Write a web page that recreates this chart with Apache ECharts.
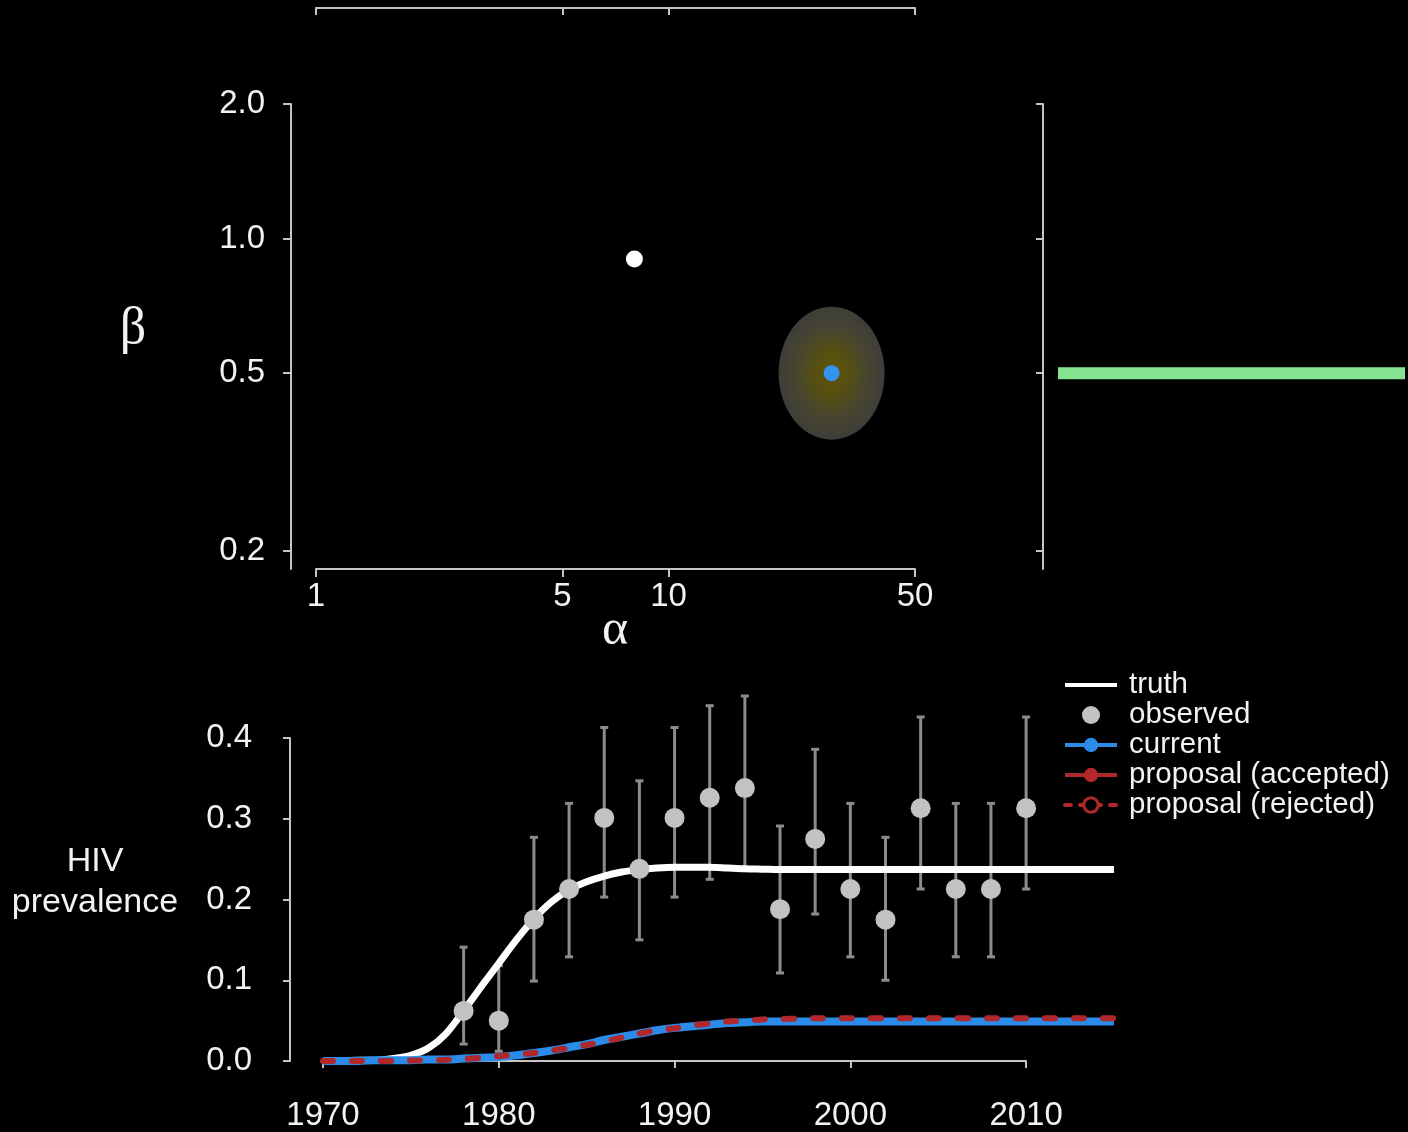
<!DOCTYPE html>
<html><head><meta charset="utf-8">
<script src="https://cdn.jsdelivr.net/npm/echarts@6/dist/echarts.min.js"></script>
<style>html,body{margin:0;padding:0;background:#000;}#chart{width:1408px;height:1132px;}</style>
</head><body><div id="chart"></div>
<script>
// ---- data ----
const alphaTicks = [1, 5, 10, 50];
const betaTicks = [0.2, 0.5, 1.0, 2.0];
const truthParam = [8, 0.9];
const currentParam = [29, 0.5];
const traceIter = [1, 2, 3, 4, 5, 6, 7, 8];
const betaTrace = [0.5, 0.5, 0.5, 0.5, 0.5, 0.5, 0.5, 0.5];

const years = [1970,1971,1972,1973,1974,1975,1976,1977,1978,1979,1980,1981,1982,1983,1984,1985,1986,1987,1988,1989,1990,1991,1992,1993,1994,1995,1996,1997,1998,1999,2000,2001,2002,2003,2004,2005,2006,2007,2008,2009,2010,2011,2012,2013,2014,2015];
const truth = [0.000,0.000,0.001,0.001,0.003,0.007,0.016,0.034,0.062,0.092,0.121,0.150,0.176,0.197,0.212,0.222,0.229,0.234,0.237,0.239,0.240,0.240,0.240,0.239,0.238,0.2375,0.237,0.237,0.237,0.237,0.237,0.237,0.237,0.237,0.237,0.237,0.237,0.237,0.237,0.237,0.237,0.237,0.237,0.237,0.237,0.237];
const current = [0.000,0.000,0.000,0.001,0.001,0.001,0.002,0.002,0.003,0.004,0.005,0.007,0.010,0.013,0.017,0.021,0.026,0.030,0.034,0.038,0.041,0.043,0.045,0.047,0.048,0.049,0.049,0.049,0.049,0.049,0.049,0.049,0.049,0.049,0.049,0.049,0.049,0.049,0.049,0.049,0.049,0.049,0.049,0.049,0.049,0.049];
const proposalAccepted = [];
const proposalRejected = [0.000,0.000,0.000,0.000,0.000,0.0005,0.001,0.0015,0.0025,0.004,0.006,0.008,0.010,0.013,0.016,0.020,0.024,0.029,0.034,0.038,0.0405,0.044,0.0465,0.049,0.050,0.0515,0.052,0.0525,0.053,0.053,0.053,0.053,0.053,0.053,0.053,0.053,0.053,0.053,0.053,0.053,0.053,0.053,0.053,0.053,0.053,0.053];

const obsYears  = [1978,1980,1982,1984,1986,1988,1990,1992,1994,1996,1998,2000,2002,2004,2006,2008,2010];
const obsValues = [0.062,0.050,0.175,0.213,0.301,0.238,0.301,0.326,0.338,0.188,0.275,0.213,0.175,0.313,0.213,0.213,0.313];
const obsLower  = [0.021,0.012,0.099,0.129,0.203,0.150,0.203,0.225,0.238,0.109,0.182,0.129,0.100,0.213,0.129,0.129,0.213];
const obsUpper  = [0.141,0.118,0.277,0.319,0.413,0.347,0.413,0.440,0.452,0.291,0.386,0.319,0.277,0.426,0.319,0.319,0.426];

const yearTicks = [1970, 1980, 1990, 2000, 2010];
const prevTicks = [0.0, 0.1, 0.2, 0.3, 0.4];

// ---- styling ----
const FONT = 'Liberation Sans';
const AXC = '#c4c4c4';
const TXT = '#f2f2f2';
const BLUE = '#2b8be8';
const RED = '#b0282c';
const axisLine = {show: true, lineStyle: {color: AXC, width: 2}};
const tick = (len) => ({show: true, inside: false, length: len, lineStyle: {color: AXC, width: 2}});
const label = (m) => ({show: true, color: TXT, fontSize: 33, fontFamily: FONT, margin: m});

const pair = (xs, ys) => xs.map((x, i) => [x, ys[i]]);
const betaMin = 0.1823;

const chart = echarts.init(document.getElementById('chart'), null, {renderer: 'canvas'});
chart.setOption({
  backgroundColor: '#000',
  animation: false,
  grid: [
    {left: 316, top: 104, width: 599, height: 465, outerBoundsMode: 'none', containLabel: false},
    {left: 316, top: -200, width: 599, height: 208, outerBoundsMode: 'none', containLabel: false},
    {left: 1058, top: 104, width: 347, height: 465, outerBoundsMode: 'none', containLabel: false},
    {left: 323, top: 738, width: 791, height: 323, outerBoundsMode: 'none', containLabel: false},
    {left: 323, top: 738, width: 703, height: 323, outerBoundsMode: 'none', containLabel: false}
  ],
  xAxis: [
    {gridIndex: 0, type: 'log', logBase: 10, min: 1, max: 50, axisLine,
     axisTick: Object.assign(tick(8), {customValues: alphaTicks}),
     axisLabel: Object.assign(label(11), {customValues: alphaTicks, formatter: v => String(v)}),
     splitLine: {show: false}},
    {gridIndex: 1, type: 'log', logBase: 10, min: 1, max: 50, axisLine,
     axisTick: Object.assign(tick(7), {customValues: alphaTicks}),
     axisLabel: {show: false}, splitLine: {show: false}},
    {gridIndex: 2, type: 'value', min: 1, max: 8, show: false},
    {gridIndex: 3, type: 'value', min: 1970, max: 2015, offset: 17, axisLine: {show: false},
     axisTick: Object.assign(tick(7), {customValues: yearTicks}),
     axisLabel: Object.assign(label(21), {customValues: yearTicks, formatter: v => String(v)}),
     splitLine: {show: false}},
    {gridIndex: 4, type: 'value', min: 1970, max: 2010, offset: 17, axisLine,
     axisTick: {show: false}, axisLabel: {show: false}, splitLine: {show: false}}
  ],
  yAxis: [
    {gridIndex: 0, type: 'log', logBase: 10, min: betaMin, max: 2, offset: 25, axisLine,
     axisTick: Object.assign(tick(8), {customValues: betaTicks}),
     axisLabel: Object.assign(label(26), {customValues: betaTicks, formatter: v => Number(v).toFixed(1)}),
     splitLine: {show: false}},
    {gridIndex: 1, type: 'value', show: false},
    {gridIndex: 2, type: 'log', logBase: 10, min: betaMin, max: 2, offset: 15, axisLine,
     axisTick: Object.assign(tick(7), {customValues: betaTicks}),
     axisLabel: {show: false}, splitLine: {show: false}},
    {gridIndex: 3, type: 'value', min: 0, max: 0.4, offset: 33, axisLine,
     axisTick: Object.assign(tick(7), {customValues: prevTicks}),
     axisLabel: Object.assign(label(38), {customValues: prevTicks, formatter: v => Number(v).toFixed(1)}),
     splitLine: {show: false}},
    {gridIndex: 4, type: 'value', min: 0, max: 0.4, show: false}
  ],
  legend: {
    orient: 'vertical', left: 1063, top: 670, padding: 0,
    itemWidth: 52, itemHeight: 18, itemGap: 0,
    textStyle: {color: TXT, fontSize: 29.5, fontFamily: FONT, lineHeight: 30, padding: [0, 0, 0, 7]},
    inactiveColor: '#444',
    data: [
      {name: 'truth', itemStyle: {opacity: 0}, lineStyle: {width: 4}},
      {name: 'observed'},
      {name: 'current', lineStyle: {width: 4}},
      {name: 'proposal (accepted)', lineStyle: {width: 4}},
      {name: 'proposal (rejected)', lineStyle: {width: 4, type: [6, 9]}, itemStyle: {color: '#000', borderColor: RED, borderWidth: 3}}
    ]
  },
  graphic: [
    {type: 'text', x: 133, y: 329, style: {text: 'β', fill: TXT, font: '52px "Liberation Serif"', align: 'center', verticalAlign: 'middle'}},
    {type: 'text', x: 615, y: 631, style: {text: 'α', fill: TXT, font: '50px "Liberation Serif"', align: 'center', verticalAlign: 'middle'}},
    {type: 'text', x: 95, y: 882, style: {text: 'HIV\nprevalence', fill: TXT, font: '34px "Liberation Sans"', lineHeight: 41, align: 'center', verticalAlign: 'middle'}}
  ],
  series: [
    {name: 'proposal spread', type: 'scatter', xAxisIndex: 0, yAxisIndex: 0, z: 1, silent: true,
     data: [currentParam], symbol: 'circle', symbolSize: [106, 133],
     itemStyle: {color: {type: 'radial', x: 0.5, y: 0.5, r: 0.5, colorStops: [
       {offset: 0, color: '#7a6a08'}, {offset: 0.35, color: '#6a6218'}, {offset: 0.7, color: '#58563e'}, {offset: 1, color: '#4d4d47'}]}}},
    {name: 'truthParam', type: 'scatter', xAxisIndex: 0, yAxisIndex: 0, z: 3, data: [truthParam],
     symbolSize: 17, itemStyle: {color: '#ffffff', opacity: 1}},
    {name: 'currentParam', type: 'scatter', xAxisIndex: 0, yAxisIndex: 0, z: 3, data: [currentParam],
     symbolSize: 16, itemStyle: {color: '#3095ee', opacity: 1}},
    {name: 'beta trace', type: 'line', xAxisIndex: 2, yAxisIndex: 2, data: pair(traceIter, betaTrace),
     showSymbol: false, symbol: 'none', clip: false, lineStyle: {color: '#86e38f', width: 12, cap: 'butt'}},
    {name: 'errorbars', type: 'custom', xAxisIndex: 3, yAxisIndex: 3, z: 1,
     data: obsYears.map((y, i) => [y, obsLower[i], obsUpper[i]]),
     renderItem: (params, api) => {
       const lo = api.coord([api.value(0), api.value(1)]);
       const hi = api.coord([api.value(0), api.value(2)]);
       const st = {stroke: '#8c8c8c', lineWidth: 3};
       return {type: 'group', children: [
         {type: 'line', shape: {x1: lo[0], y1: lo[1], x2: hi[0], y2: hi[1]}, style: st},
         {type: 'line', shape: {x1: hi[0] - 4, y1: hi[1], x2: hi[0] + 4, y2: hi[1]}, style: st},
         {type: 'line', shape: {x1: lo[0] - 4, y1: lo[1], x2: lo[0] + 4, y2: lo[1]}, style: st}
       ]};
     }},
    {name: 'truth', type: 'line', xAxisIndex: 3, yAxisIndex: 3, z: 2, clip: false, smooth: 0.3,
     data: pair(years, truth), symbol: 'none', showSymbol: false,
     itemStyle: {color: '#ffffff'}, lineStyle: {color: '#ffffff', width: 7}},
    {name: 'observed', type: 'scatter', xAxisIndex: 3, yAxisIndex: 3, z: 3, clip: false,
     data: pair(obsYears, obsValues), symbolSize: 20, itemStyle: {color: '#c2c2c2', opacity: 1}},
    {name: 'current', type: 'line', xAxisIndex: 3, yAxisIndex: 3, z: 4, clip: false, smooth: 0.3,
     data: pair(years, current), symbol: 'circle', showSymbol: false,
     itemStyle: {color: BLUE}, lineStyle: {color: BLUE, width: 8}},
    {name: 'proposal (accepted)', type: 'line', xAxisIndex: 3, yAxisIndex: 3, z: 5, clip: false,
     data: proposalAccepted, symbol: 'circle', showSymbol: false,
     itemStyle: {color: RED}, lineStyle: {color: RED, width: 6}},
    {name: 'proposal (rejected)', type: 'line', xAxisIndex: 3, yAxisIndex: 3, z: 5, clip: false, smooth: 0.3,
     data: pair(years, proposalRejected), symbol: 'circle', showSymbol: false,
     itemStyle: {color: RED}, lineStyle: {color: RED, width: 6, type: [10, 19], cap: 'round'}}
  ]
});
</script></body></html>
